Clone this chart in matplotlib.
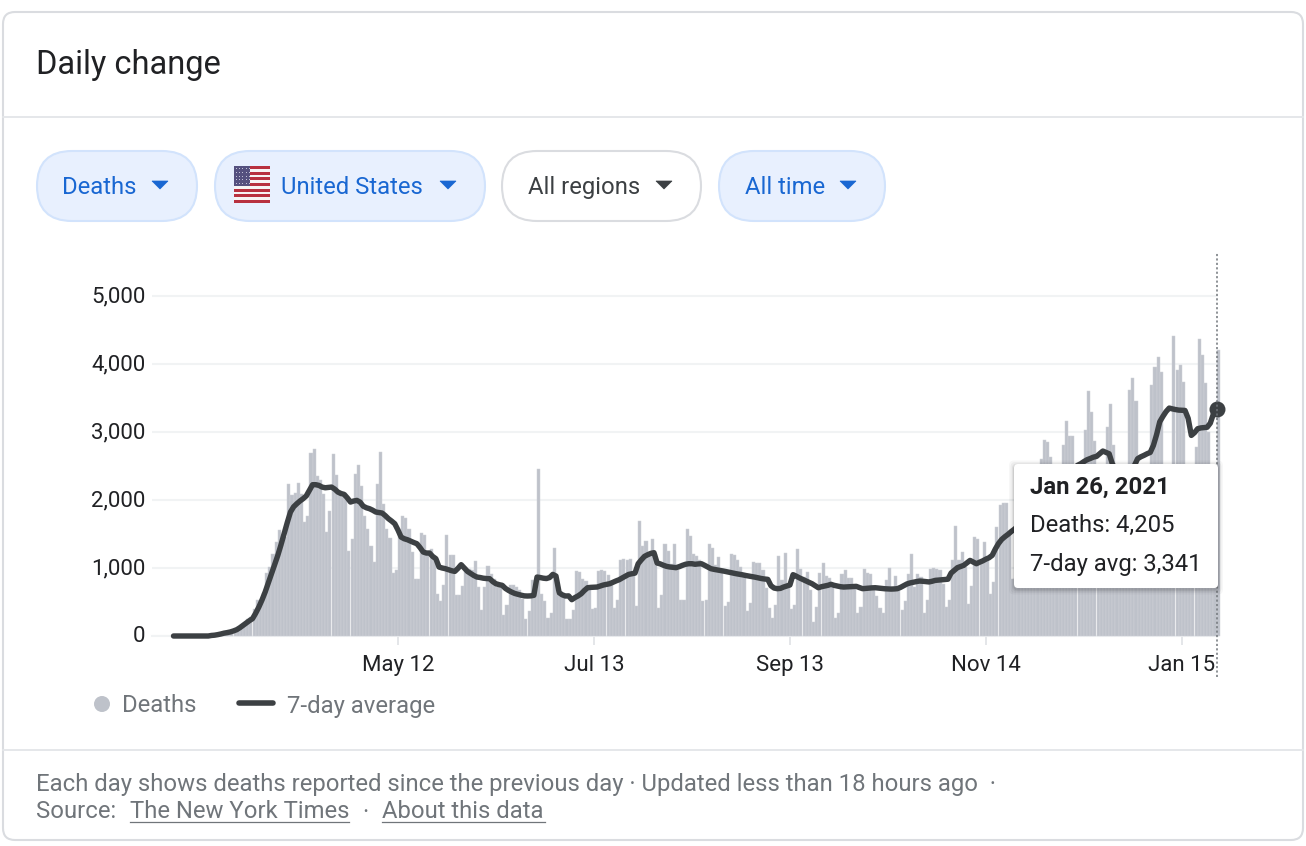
import matplotlib
matplotlib.use("Agg")
import matplotlib.pyplot as plt
import matplotlib.dates as mdates
import matplotlib.transforms as mtrans
import pandas as pd
from matplotlib.patches import FancyBboxPatch, Polygon, Rectangle, Circle

plt.rcParams['font.family'] = ['Roboto', 'DejaVu Sans']

START_DATE = "2020-03-02"
deaths_early = [3,1,5,2,6,5,8,3,5,7, 9,12,8,14,22,30,38,55,50,65, 100,110]
deaths_spring = [180,255,280,400,525,485,637,926,
    1014,1210,1380,1553,1333,1450,
    2230,2068,2107,2254,2082,1676,1760,2690,2744,2347,
    2288,2092,1529,1833,2670,2362,2117,2043,2019,1250,
    1431,2386,2509,2200,1760,1578,1318,1088,2230,2700,
    1945,1578,1445,926,975,1550,1760,1740,1578,1235,
    843,843,1514,1480,1235]
deaths_summer = [1284,1112,622,510,745,1480,1196,1196,598,598,
    735,1014,990,965,1102,720,387,720,1024,916,
    843,720,720,314,451,745,745,720,671,549,
    255,363,818,720,2460,622,510,265,343,1298,
    622,622,598,255,255,387,951,941,833,809,
    720,392,412,951,965,951,892,769,412,524,
    1122,1127,1122,1137,916,436,1690,1318,1392,1210,
    1421,1210,417,598,1348,1250,1063,1348,965,534,
    534,1568]
deaths_autumn = [1470,1210,1171,1112,510,524,1348,1299,1039,1161,
    990,441,500,1210,1186,1122,1014,916,368,485,
    1088,1073,1073,975,706,412,265,451,1171,818,
    1220,720,402,451,1274,990,867,941,671,206,
    426,931,1078,882,858,720,265,343,916,965,
    853,858,720,338,426,990,926,907,720,588,
    412,338,818,1005,720,882,671,377,514,916,
    1200,720,916,867,338,534,978,1005,990,965,
    769,426,534]
deaths_winter = [1112,1612,1112,1235,1014,465,735,1455,1421,1112,
    1382,1112,622,794,1602,1920,1955,1955,1504,843,
    850,1300,2250,2500,2450,2400,1800,1400,2607,2876,
    2852,2631,1900,1300,1500,2813,3156,2935,2945,2300,
    1500,1700,3023,3601,3293,2862,2500,1500,1800,3072,
    3405,2803,2450,2000,1500,2000,3621,3797,3454,2500,
    2400,1900,2300,3685,3954,4101,3880,2400,1800,2000,
    4405,3915,3979,3734,2400,1900,1900,2778,4371,4126,
    3724,3000,2000,1500,4205]
deaths = deaths_early + deaths_spring + deaths_summer + deaths_autumn + deaths_winter

avg_spring = [0,0,0,0,0,0,0,0,0,0,0,0,8,12,20,30,42,50,60,75,
    93,122,157,190,225,255,335,426,530,647,
    780,916,1050,1186,1340,1504,1670,1823,1900,1945,
    1985,2019,2060,2141,2225,2225,2215,2190,2180,2185,
    2190,2160,2117,2095,2082,2030,1970,1985,1994,1970,
    1910,1886,1872,1850,1823,1815,1808,1770,1725,1690,
    1651,1560,1455,1430,1416,1395,1375,1357,1300,1235]
avg_summer = [1220,1220,1170,1137,1014,1000,990,975,960,950,
    995,1049,1000,950,920,890,867,860,850,845,
    843,800,769,755,745,700,670,645,625,612,
    600,590,588,590,598,867,860,850,845,860,
    906,882,637,605,588,590,534,565,590,622,
    670,710,715,718,720,735,750,760,769,790,
    810,828,855,880,906,916,925,1063,1120,1171,
    1195,1215,1225,1073,1060,1040,1024,1015,1010,1005,
    1020,1039,1055,1063,1063,1055,1060,1063,1040,1015]
avg_autumn = [990,980,972,965,955,945,935,925,916,908,
    900,890,882,875,865,855,845,838,833,740,
    705,696,700,720,735,750,902,880,855,833,
    810,790,769,740,710,725,735,745,760,745,
    735,725,720,722,725,728,730,712,696,700,
    705,708,710,705,700,695,692,690,692,696,
    715,740,765,780,790,800,808,805,800,795,
    805,818,822,826,830,835,926,965,1005,1022]
avg_winter = [1039,1075,1112,1088,1063,1085,1105,1130,1151,1186,
    1280,1360,1420,1460,1495,1535,1570,1610,1650,1690,
    1730,1780,1830,1880,1930,1980,2030,2080,2130,2180,
    2230,2280,2320,2370,2420,2470,2510,2533,2565,2592,
    2610,2630,2641,2680,2720,2700,2680,2533,2450,2380,
    2300,2250,2210,2300,2509,2607,2635,2656,2680,2700,
    2803,2960,3150,3229,3300,3352,3340,3330,3322,3320,
    3317,3200,2950,2990,3048,3060,3065,3070,3130,3268,3341]
seven_day = avg_spring + avg_summer + avg_autumn + avg_winter

assert len(deaths) == 331, f"deaths {len(deaths)}"
assert len(seven_day) == 331, f"avg {len(seven_day)}"

y_ticks = [0, 1000, 2000, 3000, 4000, 5000]
y_labels = ["0", "1,000", "2,000", "3,000", "4,000", "5,000"]
x_tick_dates = ["2020-05-12", "2020-07-13", "2020-09-13", "2020-11-14", "2021-01-15"]
x_labels = ["May 12", "Jul 13", "Sep 13", "Nov 14", "Jan 15"]

W, H = 1306, 846
BAR = "#bec2ca"; LINE = "#3c4043"; GRID = "#f1f3f4"; INK = "#202124"; GREY = "#70757a"
BLUE = "#1967d2"; CHIP = "#e8f0fe"; CHIPB = "#d2e3fc"; BORDER = "#dadce0"
FS = 16
FL = 17.2

fig = plt.figure(figsize=(W/100, H/100), dpi=100, facecolor="white")

def px_axes(z):
    a = fig.add_axes([0, 0, 1, 1], zorder=z)
    a.set_xlim(0, W); a.set_ylim(H, 0); a.axis("off"); a.patch.set_alpha(0)
    return a

ui = px_axes(0)
ui.add_patch(FancyBboxPatch((3, 12), 1300, 828, boxstyle="round,pad=0,rounding_size=12",
                            fc="white", ec=BORDER, lw=1.5))
ui.plot([3, 1303], [117, 117], color="#e3e5e8", lw=1.3)
ui.plot([3, 1303], [750, 750], color="#e3e5e8", lw=1.3)
ui.text(36, 65, "Daily change", fontsize=23.5, color=INK, va="center", ha="left")

def chip(x0, x1, label, tx, arrow, active=True):
    fc = CHIP if active else "white"
    ec = CHIPB if active else BORDER
    col = BLUE if active else "#3c4043"
    ui.add_patch(FancyBboxPatch((x0, 151), x1-x0, 70, boxstyle="round,pad=0,rounding_size=35",
                                fc=fc, ec=ec, lw=1.5))
    ui.text(tx, 187.5, label, fontsize=FL, color=col, va="center", ha="left")
    ui.add_patch(Polygon([[arrow-8, 181], [arrow+8, 181], [arrow, 189]], closed=True, fc=col, ec=col, lw=0.5))

chip(37, 197, "Deaths", 62, 160)
chip(215, 485, "United States", 281, 448)
chip(502, 701, "All regions", 528, 664, active=False)
chip(719, 885, "All time", 745, 848)

# flag chip
fx0, fy0, fw, fh = 234, 166, 36, 37
for s in range(13):
    ui.add_patch(Rectangle((fx0, fy0+s*fh/13), fw, fh/13, fc="#b8313f" if s % 2 == 0 else "#f6f4f4", ec="none"))
ui.add_patch(Rectangle((fx0, fy0), fw*0.45, fh*7/13, fc="#55517f", ec="none"))
for r in range(5):
    for c in range(5):
        ui.plot(fx0+2+c*3.2, fy0+2.5+r*3.6, ".", ms=1.5, color="#d8d8e8", mew=0)

# legend
ui.add_patch(Circle((102, 704), 8, fc=BAR, ec="none"))
ui.text(122, 706, "Deaths", fontsize=FL, color=GREY, va="center", ha="left")
ui.plot([239, 273], [703, 703], color=LINE, lw=4, solid_capstyle="round")
ui.text(287, 706, "7-day average", fontsize=FL, color=GREY, va="center", ha="left")

# footer
ui.text(36, 784, "Each day shows deaths reported since the previous day · Updated less than 18 hours ago  ·",
        fontsize=FL, color=GREY, va="center", ha="left")
ui.text(36, 812, "Source:", fontsize=FL, color=GREY, va="center", ha="left")
ui.text(130, 812, "The New York Times", fontsize=FL, color=GREY, va="center", ha="left")
ui.text(362, 812, "·", fontsize=FL, color=GREY, va="center", ha="left")
ui.text(382, 812, "About this data", fontsize=FL, color=GREY, va="center", ha="left")
ui.plot([130, 349], [822, 822], color=GREY, lw=0.9)
ui.plot([382, 545], [822, 822], color=GREY, lw=0.9)

# chart axes
AX_L, AX_R, AX_T, AX_B = 152, 1217.5, 252, 636
X0 = 173.5
PX_PER_DAY = 3.161
PX_PER_UNIT = 0.068
ax = fig.add_axes([AX_L/W, 1-AX_B/H, (AX_R-AX_L)/W, (AX_B-AX_T)/H], zorder=1)
ax.patch.set_alpha(0)
dates = pd.date_range(START_DATE, periods=len(deaths))
d0 = mdates.date2num(dates[0])
ax.set_xlim(d0-(X0-AX_L)/PX_PER_DAY, d0+(AX_R-X0)/PX_PER_DAY)
ax.set_ylim(0, (AX_B-AX_T)/PX_PER_UNIT)
for s in ax.spines.values():
    s.set_visible(False)
ax.set_axisbelow(True)
ax.yaxis.grid(True, color=GRID, lw=1.5)
ax.bar(mdates.date2num(dates), deaths, width=0.98, align="edge", color=BAR, edgecolor="#cfd2d8",
       lw=0.35, zorder=2, clip_on=False)
ax.plot(mdates.date2num(dates), seven_day, color=LINE, lw=3.9, zorder=3, clip_on=False,
        solid_joinstyle="round", solid_capstyle="round")
ax.plot(mdates.date2num(dates[-1]), seven_day[-1], "o", ms=11.5, color=LINE, mew=0, zorder=4, clip_on=False)
ax.axhline(0, color=GRID, lw=1.5, zorder=1, clip_on=False)
ax.set_yticks(y_ticks, y_labels, fontsize=FS, color=INK)
ax.set_xticks(mdates.date2num(pd.to_datetime(x_tick_dates)), x_labels, fontsize=FS, color=INK)
ax.tick_params(axis="y", length=0, pad=4.5)
ax.tick_params(axis="x", length=6.5, width=1.2, color="#dfe1e5", pad=7)
up = mtrans.ScaledTranslation(0, 1.5/100, fig.dpi_scale_trans)
for lab in ax.get_yticklabels():
    lab.set_transform(lab.get_transform() + up)
x_end = mdates.date2num(dates[-1])
ax.plot([x_end, x_end], [-41/PX_PER_UNIT, (AX_B-AX_T)/PX_PER_UNIT], color=GREY, lw=1.1,
        dashes=(1.4, 1.5), zorder=5, clip_on=False)

# tooltip
top = px_axes(2)
for grow, alpha in ((5, 0.03), (3.5, 0.04), (2, 0.06), (1, 0.08)):
    top.add_patch(FancyBboxPatch((1014-grow, 464-grow+1.5), 204+2*grow, 124+2*grow,
                                 boxstyle="round,pad=0,rounding_size=5", fc="black", ec="none", alpha=alpha))
top.add_patch(FancyBboxPatch((1014, 464), 204, 124, boxstyle="round,pad=0,rounding_size=4", fc="white", ec="none"))
top.text(1030, 487, "Jan 26, 2021", fontsize=FL, fontweight="bold", color=INK, va="center", ha="left")
top.text(1030, 525, "Deaths: 4,205", fontsize=FL, color=INK, va="center", ha="left")
top.text(1030, 564, "7-day avg: 3,341", fontsize=FL, color=INK, va="center", ha="left")

fig.savefig("out.png", dpi=100, facecolor="white")
